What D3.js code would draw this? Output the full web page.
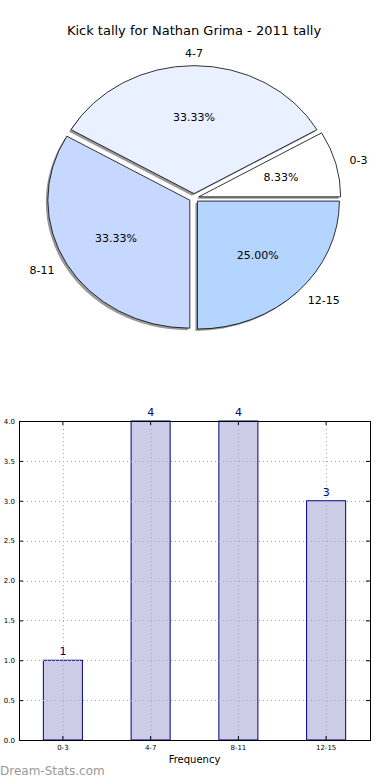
<!DOCTYPE html>
<html>
<head>
<meta charset="utf-8">
<script src="https://cdn.jsdelivr.net/npm/d3@7"></script>
<style>
  body { margin: 0; background: #fff; }
  svg { display: block; font-family: "DejaVu Sans", sans-serif; }
</style>
</head>
<body>
<div id="chart"></div>
<script>
// data
const categories = ["0-3", "4-7", "8-11", "12-15"];
const counts = [1, 4, 4, 3];
const sliceColors = ["#ffffff", "#e9f0ff", "#c6d8ff", "#b4d5ff"];
const yTicks = [0, 0.5, 1, 1.5, 2, 2.5, 3, 3.5, 4];
const chartTitle = "Kick tally for Nathan Grima - 2011 tally";

const width = 390, height = 780;
const svg = d3.select("#chart").append("svg")
    .attr("width", width)
    .attr("height", height);

svg.append("text")
    .attr("x", 194).attr("y", 35)
    .attr("text-anchor", "middle")
    .attr("font-size", "13px")
    .text(chartTitle);

// ---- pie (matplotlib style: starts at 3 o'clock, counter-clockwise, slightly squashed) ----
const cx = 194, cy = 198, rx = 142, ry = 128;
const explodeFrac = 0.034;
const total = d3.sum(counts);

const pie = d3.pie().sort(null)
    .startAngle(Math.PI / 2)
    .endAngle(Math.PI / 2 - 2 * Math.PI);
const arcs = pie(counts);
const arc = d3.arc().innerRadius(0).outerRadius(rx);

// convert a d3 angle (clockwise from 12) to a screen unit vector
const dir = a => [Math.sin(a), -Math.cos(a)];

const pieG = svg.append("g");

arcs.forEach((d, i) => {
    const mid = (d.startAngle + d.endAngle) / 2;
    const [ux, uy] = dir(mid);
    const ox = cx + ux * rx * explodeFrac;
    const oy = cy + uy * ry * explodeFrac;

    // shadow
    pieG.append("path")
        .attr("d", arc(d))
        .attr("transform", `translate(${ox - 2},${oy + 2}) scale(1,${ry / rx})`)
        .attr("fill", "#000")
        .attr("opacity", 0.4);
});

arcs.forEach((d, i) => {
    const mid = (d.startAngle + d.endAngle) / 2;
    const [ux, uy] = dir(mid);
    const ox = cx + ux * rx * explodeFrac;
    const oy = cy + uy * ry * explodeFrac;

    pieG.append("path")
        .attr("d", arc(d))
        .attr("transform", `translate(${ox},${oy}) scale(1,${ry / rx})`)
        .attr("fill", sliceColors[i])
        .attr("stroke", "#000")
        .attr("stroke-width", 0.8)
        .attr("vector-effect", "non-scaling-stroke");

    // percent label
    pieG.append("text")
        .attr("x", ox + ux * rx * 0.6)
        .attr("y", oy + uy * ry * 0.6)
        .attr("dy", "0.35em")
        .attr("text-anchor", "middle")
        .attr("font-size", "11px")
        .text((counts[i] / total * 100).toFixed(2) + "%");

    // category label
    pieG.append("text")
        .attr("x", ox + ux * rx * 1.1)
        .attr("y", oy + uy * ry * 1.1)
        .attr("dy", "0.35em")
        .attr("text-anchor", Math.abs(ux) < 0.01 ? "middle" : (ux > 0 ? "start" : "end"))
        .attr("font-size", "11px")
        .text(categories[i]);
});

// ---- bar chart ----
const margin = {top: 421, right: 20, bottom: 40, left: 19};
const bw = width - margin.left - margin.right;
const bh = height - margin.top - margin.bottom;

const g = svg.append("g")
    .attr("transform", `translate(${margin.left},${margin.top})`);

const x = d3.scaleBand()
    .domain(categories)
    .range([0, bw])
    .paddingInner(0.555)
    .paddingOuter(0.2775);

const y = d3.scaleLinear()
    .domain([0, 4])
    .range([bh, 0]);

g.selectAll("rect.bar")
    .data(counts)
    .join("rect")
    .attr("class", "bar")
    .attr("x", (d, i) => x(categories[i]))
    .attr("y", d => y(d))
    .attr("width", x.bandwidth())
    .attr("height", d => bh - y(d))
    .attr("fill", "#ccccE6")
    .attr("stroke", "#000080")
    .attr("stroke-width", 1);

// grid (drawn over the bars)
g.selectAll("line.hgrid")
    .data(yTicks)
    .join("line")
    .attr("class", "hgrid")
    .attr("x1", 0).attr("x2", bw)
    .attr("y1", d => Math.round(y(d)) + 0.5)
    .attr("y2", d => Math.round(y(d)) + 0.5)
    .attr("stroke", "#aaa")
    .attr("stroke-width", 1)
    .attr("stroke-dasharray", "1,3");

g.selectAll("line.vgrid")
    .data(categories)
    .join("line")
    .attr("class", "vgrid")
    .attr("x1", d => Math.round(x(d) + x.bandwidth() / 2) + 0.5)
    .attr("x2", d => Math.round(x(d) + x.bandwidth() / 2) + 0.5)
    .attr("y1", 0).attr("y2", bh)
    .attr("stroke", "#aaa")
    .attr("stroke-width", 1)
    .attr("stroke-dasharray", "1,3");

// value labels
g.selectAll("text.val")
    .data(counts)
    .join("text")
    .attr("class", "val")
    .attr("x", (d, i) => x(categories[i]) + x.bandwidth() / 2)
    .attr("y", d => y(d) - 5)
    .attr("text-anchor", "middle")
    .attr("font-size", "11px")
    .attr("fill", "#000080")
    .text(d => d);

// axes
const yAxis = d3.axisLeft(y).tickValues(yTicks).tickFormat(d3.format(".1f"))
    .tickSizeInner(-4).tickSizeOuter(0).tickPadding(4);
const yAxisR = d3.axisRight(y).tickValues(yTicks).tickFormat("")
    .tickSizeInner(-4).tickSizeOuter(0);
const xAxis = d3.axisBottom(x).tickSizeInner(-4).tickSizeOuter(0).tickPadding(5);
const xAxisT = d3.axisTop(x).tickFormat("").tickSizeInner(-4).tickSizeOuter(0);

const styleAxis = sel => {
    sel.select(".domain").remove();
    sel.selectAll("text").attr("font-size", "7px").attr("font-family", "DejaVu Sans, sans-serif").attr("fill", "#000");
    sel.selectAll("line").attr("stroke", "#000");
};

g.append("g").call(yAxis).call(styleAxis);
g.append("g").attr("transform", `translate(${bw},0)`).call(yAxisR).call(styleAxis);
g.append("g").attr("transform", `translate(0,${bh})`).call(xAxis).call(styleAxis);
g.append("g").call(xAxisT).call(styleAxis);

// frame
g.append("rect")
    .attr("x", 0.5).attr("y", 0.5)
    .attr("width", bw).attr("height", bh)
    .attr("fill", "none")
    .attr("stroke", "#000")
    .attr("stroke-width", 1);

svg.append("text")
    .attr("x", margin.left + bw / 2)
    .attr("y", 763)
    .attr("text-anchor", "middle")
    .attr("font-size", "10px")
    .text("Frequency");

// watermark
svg.append("text")
    .attr("x", 0).attr("y", 775)
    .attr("font-size", "12px")
    .attr("fill", "#999")
    .text("Dream-Stats.com");
</script>
</body>
</html>
